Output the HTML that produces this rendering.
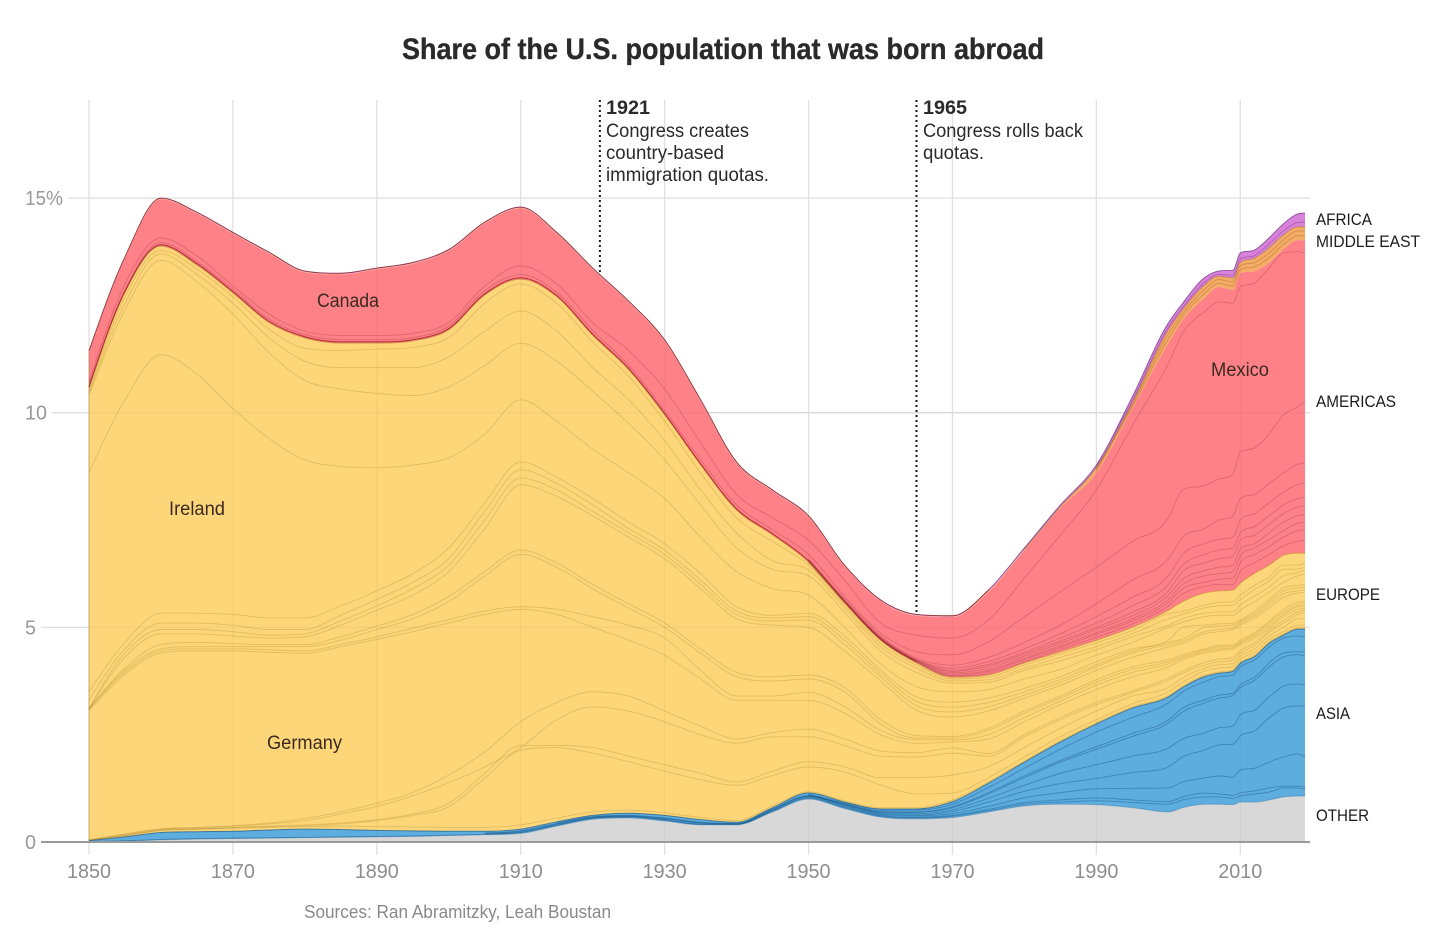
<!DOCTYPE html>
<html lang="en">
<head>
<meta charset="utf-8">
<title>Share of the U.S. population that was born abroad</title>
<style>
html,body{margin:0;padding:0;background:#fff;}
svg{display:block;}
text{font-family:"Liberation Sans",sans-serif;}
</style>
</head>
<body>
<svg id="chart" xmlns="http://www.w3.org/2000/svg" width="1456" height="944" viewBox="0 0 1456 944">
<rect x="0" y="0" width="1456" height="944" fill="#ffffff"/>
<text x="402" y="59" font-size="29.5" font-weight="700" fill="#2a2a2a" stroke="#2a2a2a" stroke-width=".35" textLength="642" lengthAdjust="spacingAndGlyphs">Share of the U.S. population that was born abroad</text>
<g id="grid-layer"></g>
<g id="band-layer"></g>
<g id="line-layer"></g>
<g id="overlay-layer"></g>
<g id="axis-layer"></g>
<g id="annotation-layer"></g>
<g font-size="19" fill="#2a2a2a">
<text x="606" y="114" font-weight="700" textLength="44" lengthAdjust="spacingAndGlyphs">1921</text>
<text x="606" y="137" textLength="143" lengthAdjust="spacingAndGlyphs">Congress creates</text>
<text x="606" y="159" textLength="118" lengthAdjust="spacingAndGlyphs">country-based</text>
<text x="606" y="181" textLength="163" lengthAdjust="spacingAndGlyphs">immigration quotas.</text>
</g>
<g font-size="19" fill="#2a2a2a">
<text x="923" y="114" font-weight="700" textLength="44" lengthAdjust="spacingAndGlyphs">1965</text>
<text x="923" y="137" textLength="160" lengthAdjust="spacingAndGlyphs">Congress rolls back</text>
<text x="923" y="159" textLength="61" lengthAdjust="spacingAndGlyphs">quotas.</text>
</g>
<g font-size="19" fill="#3a2a20">
<text x="317" y="307" textLength="62" lengthAdjust="spacingAndGlyphs">Canada</text>
<text x="169" y="515" textLength="56" lengthAdjust="spacingAndGlyphs">Ireland</text>
<text x="267" y="749" textLength="75" lengthAdjust="spacingAndGlyphs">Germany</text>
<text x="1211" y="376" textLength="58" lengthAdjust="spacingAndGlyphs">Mexico</text>
</g>
<g font-size="17" fill="#1c1c1c">
<text x="1316" y="225" textLength="56" lengthAdjust="spacingAndGlyphs">AFRICA</text>
<text x="1316" y="247" textLength="104" lengthAdjust="spacingAndGlyphs">MIDDLE EAST</text>
<text x="1316" y="407" textLength="80" lengthAdjust="spacingAndGlyphs">AMERICAS</text>
<text x="1316" y="600" textLength="64" lengthAdjust="spacingAndGlyphs">EUROPE</text>
<text x="1316" y="719" textLength="34" lengthAdjust="spacingAndGlyphs">ASIA</text>
<text x="1316" y="821" textLength="53" lengthAdjust="spacingAndGlyphs">OTHER</text>
</g>
<text x="304" y="918" font-size="18" fill="#8a8a8a" textLength="307" lengthAdjust="spacingAndGlyphs">Sources: Ran Abramitzky, Leah Boustan</text>
</svg>
<script>
// Sample years shared by every series
const years = [1850,1855,1860,1865,1870,1875,1880,1885,1890,1895,1900,1905,1910,1915,1920,1925,1930,1935,1940,1945,1950,1955,1960,1965,1970,1975,1980,1985,1990,1995,2000,2002,2005,2007,2009,2010,2012,2014,2016,2018,2019];

// Tick values and labels
const xTickYears = [1850,1870,1890,1910,1930,1950,1970,1990,2010];
const yTickValues = [0,5,10,15];
const yTickLabels = ['0','5','10','15%'];
const annotationYears = [1921,1965];

// Stack boundaries: cumulative share of the population (%)
const otherTop = [0,.02,.05,.07,.08,.09,.1,.11,.12,.13,.15,.17,.2,.37,.53,.56,.49,.4,.4,.7,1,.78,.58,.54,.57,.7,.84,.88,.87,.8,.7,.8,.88,.88,.87,.93,.93,.98,1.05,1.07,1.07];
const asiaTop = [.03,.12,.22,.24,.25,.28,.3,.29,.27,.26,.25,.25,.3,.47,.62,.67,.62,.52,.46,.8,1.14,.93,.77,.77,.94,1.37,1.86,2.33,2.75,3.12,3.38,3.6,3.85,3.93,3.98,4.16,4.32,4.63,4.82,4.96,4.96];
const europeTop = [10.57,12.8,13.88,13.44,12.79,12.1,11.74,11.62,11.62,11.67,11.93,12.74,13.11,12.7,11.8,11,9.95,8.78,7.73,7.15,6.52,5.57,4.7,4.17,3.84,3.89,4.17,4.43,4.7,5,5.4,5.6,5.8,5.85,5.87,6.03,6.26,6.45,6.68,6.73,6.73];
const americasTop = [11.41,13.6,14.97,14.64,14.17,13.71,13.27,13.22,13.34,13.47,13.77,14.41,14.76,14.17,13.34,12.57,11.67,10.27,8.82,8.17,7.57,6.42,5.61,5.27,5.24,5.83,6.8,7.78,8.6,10.1,11.62,12.16,12.67,12.93,12.86,13.25,13.3,13.49,13.81,14.02,14.02];
const middleEastTop = [11.42,13.61,14.98,14.65,14.18,13.72,13.28,13.23,13.35,13.48,13.78,14.42,14.77,14.18,13.35,12.58,11.68,10.28,8.83,8.18,7.58,6.43,5.62,5.28,5.25,5.85,6.82,7.81,8.72,10.23,11.93,12.4,12.97,13.18,13.14,13.5,13.6,13.84,14.14,14.33,14.33];
const africaTop = [11.44,13.63,15,14.67,14.2,13.74,13.3,13.25,13.37,13.5,13.8,14.44,14.79,14.2,13.37,12.6,11.7,10.3,8.85,8.2,7.6,6.45,5.64,5.3,5.27,5.87,6.85,7.85,8.78,10.37,12.09,12.55,13.14,13.3,13.32,13.72,13.79,14.07,14.4,14.63,14.65];

// Asian country boundaries (null = too thin to see in that period)
const asiaLine1 = [.01,.03,.06,.08,.09,.1,.11,.12,.13,.14,.16,.18,.22,.39,.55,.58,.51,.41,.41,.72,1.02,.8,.6,.56,.6,.73,.88,.93,.96,.92,.88,.98,1.05,1.05,1.02,1.07,1.12,1.16,1.26,1.26,1.23];
const asiaLine2 = [null,null,null,null,null,null,null,null,null,null,null,.19,.23,.4,.56,.59,.52,.42,.41,.73,1.04,.82,.62,.58,.62,.76,.92,.98,1.03,.98,.94,1.05,1.14,1.12,1.09,1.14,1.19,1.26,1.3,1.3,1.28];
const asiaLine3 = [null,null,null,null,null,null,null,null,null,null,null,.2,.25,.42,.57,.6,.54,.44,.42,.75,1.06,.84,.64,.61,.66,.83,1.03,1.15,1.24,1.25,1.26,1.4,1.49,1.54,1.51,1.68,1.72,1.86,1.98,2.05,1.98];
const asiaLine4 = [null,null,null,null,null,null,null,null,null,null,null,.21,.26,.43,.58,.61,.55,.45,.43,.76,1.07,.86,.66,.63,.71,.93,1.18,1.36,1.48,1.62,1.75,1.98,2.14,2.26,2.28,2.47,2.59,2.89,3.12,3.17,3.17];
const asiaLine5 = [null,null,null,null,null,null,null,null,null,null,null,null,null,.44,.59,.62,.56,.46,.43,.77,1.08,.87,.68,.66,.75,1.02,1.32,1.6,1.8,2,2.19,2.4,2.54,2.66,2.7,2.96,3.07,3.38,3.63,3.68,3.66];
const asiaLine6 = [null,null,null,null,null,null,null,null,null,null,null,null,null,null,null,null,null,null,null,null,1.09,.88,.7,.69,.8,1.12,1.5,1.86,2.16,2.46,2.77,3.03,3.24,3.35,3.42,3.59,3.77,4.08,4.31,4.36,4.33];
const asiaLine7 = [null,null,null,null,null,null,null,null,null,null,null,null,null,null,null,null,null,null,null,null,1.1,.89,.71,.7,.82,1.15,1.54,1.9,2.22,2.53,2.84,3.12,3.31,3.42,3.47,3.66,3.84,4.17,4.4,4.43,4.43];
const asiaLine8 = [null,null,null,null,null,null,null,null,null,null,null,null,null,null,null,null,null,null,null,null,1.12,.91,.74,.74,.88,1.27,1.72,2.16,2.56,2.9,3.24,3.5,3.73,3.85,3.89,4.08,4.24,4.54,4.75,4.8,4.78];

// European country boundaries (Germany, Ireland and the rest)
const europeLine1 = [.04,.15,.27,.3,.32,.34,.36,.37,.36,.35,.34,.34,.4,.56,.7,.74,.68,.57,.5,.84,1.17,.96,.8,.8,.98,1.4,1.89,2.36,2.78,3.15,3.41,3.63,3.88,3.96,4.01,4.19,4.35,4.66,4.85,4.99,4.99];
const europeLine2 = [.04,.15,.27,.3,.33,.36,.38,.42,.5,.62,.82,1.49,2.14,2.2,2.07,1.87,1.65,1.45,1.32,1.55,1.75,1.63,1.33,1.12,1.14,1.5,1.98,2.45,2.85,3.22,3.5,3.72,3.98,4.05,4.08,4.26,4.42,4.72,4.9,5.05,5.05];
const europeLine3 = [.04,.16,.28,.31,.34,.37,.4,.44,.52,.65,.9,1.6,2.25,2.25,2.2,2,1.8,1.6,1.4,1.65,1.87,1.75,1.5,1.5,1.56,1.75,2.2,2.65,3.05,3.4,3.6,3.82,4.05,4.13,4.16,4.33,4.5,4.8,5,5.2,5.2];
const europeLine4 = [.05,.18,.3,.33,.37,.42,.5,.65,.83,1.08,1.38,1.75,2.2,2.85,3.15,3.05,2.8,2.5,2.3,2.45,2.45,2.25,2,1.98,2.07,2,2.45,2.85,3.2,3.48,3.77,3.93,4.12,4.2,4.24,4.4,4.58,4.88,5.1,5.3,5.36];
const europeLine5 = [.05,.19,.31,.34,.38,.44,.55,.7,.9,1.15,1.56,2.1,2.8,3.25,3.5,3.4,3.05,2.7,2.4,2.55,2.63,2.4,2.12,2.08,2.19,2.06,2.5,2.9,3.25,3.52,3.82,3.98,4.18,4.26,4.3,4.46,4.64,4.93,5.16,5.36,5.4];
const europeLine6 = [3.05,3.9,4.4,4.45,4.45,4.42,4.4,4.55,4.72,4.9,5.1,5.3,5.42,5.3,5,4.7,4.35,3.8,3.3,3.3,3.3,3,2.5,2.3,2.33,2.4,2.8,3.2,3.55,3.85,4.08,4.24,4.4,4.46,4.5,4.59,4.75,4.98,5.25,5.42,5.45];
const europeLine7 = [3.1,3.95,4.45,4.5,4.5,4.48,4.45,4.6,4.78,4.98,5.18,5.38,5.48,5.42,5.25,5.05,4.75,4,3.4,3.4,3.49,3.15,2.6,2.38,2.38,2.5,2.9,3.28,3.65,3.95,4.15,4.28,4.44,4.5,4.53,4.63,4.8,5.04,5.3,5.48,5.5];
const europeLine8 = [3.1,4,4.5,4.55,4.55,4.55,4.55,4.7,4.95,5.2,5.6,6.2,6.7,6.4,5.9,5.45,5,4.4,3.85,3.75,3.8,3.5,2.75,2.42,2.42,2.6,3,3.35,3.72,4.02,4.2,4.32,4.47,4.54,4.56,4.66,4.84,5.1,5.36,5.52,5.55];
const europeLine9 = [3.1,4.05,4.6,4.65,4.62,4.6,4.6,4.78,5.03,5.3,5.72,6.3,6.8,6.5,6,5.55,5.1,4.5,3.95,3.85,3.89,3.6,2.85,2.48,2.46,2.65,3.05,3.4,3.78,4.08,4.25,4.36,4.5,4.58,4.59,4.7,4.88,5.14,5.42,5.58,5.6];
const europeLine10 = [3.1,4.3,4.85,4.85,4.8,4.75,4.78,5.05,5.4,5.75,6.3,7.3,8.32,8.05,7.6,7.1,6.6,5.9,5.2,5.05,5,4.45,3.75,3.07,2.91,3.05,3.35,3.65,4,4.3,4.54,4.63,4.85,4.9,4.95,5.05,5.22,5.45,5.7,5.8,5.82];
const europeLine11 = [3.1,4.4,4.95,4.95,4.9,4.82,4.85,5.15,5.5,5.9,6.45,7.5,8.48,8.2,7.7,7.2,6.7,6,5.3,5.15,5.17,4.6,3.85,3.18,3.03,3.15,3.42,3.72,4.08,4.4,4.6,4.68,4.9,4.95,4.98,5.1,5.27,5.52,5.78,5.85,5.88];
const europeLine12 = [3.3,4.5,5.1,5.1,5.05,4.95,4.95,5.28,5.65,6.05,6.6,7.7,8.67,8.35,7.85,7.3,6.8,6.1,5.38,5.22,5.25,4.7,3.93,3.28,3.14,3.25,3.5,3.78,4.13,4.45,4.65,4.73,5,5.03,5.05,5.14,5.32,5.59,5.85,5.92,5.93];
const europeLine13 = [3.5,4.65,5.33,5.33,5.3,5.22,5.22,5.5,5.85,6.25,6.85,7.9,8.85,8.5,8,7.45,6.95,6.25,5.48,5.28,5.33,4.8,4,3.38,3.26,3.35,3.58,3.85,4.2,4.5,4.7,5,5.05,5.08,5.1,5.17,5.38,5.65,5.92,5.98,6];
const europeLine14 = [8.6,10.3,11.35,10.9,10.1,9.4,8.9,8.75,8.72,8.78,8.95,9.5,10.3,9.8,9.15,8.6,8,7.1,6.3,5.9,5.75,5,4.15,3.62,3.5,3.55,3.8,4.02,4.35,4.65,5,5.12,5.25,5.28,5.28,5.4,5.6,5.82,6.05,6.2,6.25];
const europeLine15 = [10.4,12.4,13.55,13.05,12.3,11.4,10.75,10.55,10.45,10.4,10.6,11.1,11.62,11.2,10.5,9.75,8.9,7.85,6.85,6.35,6.2,5.35,4.45,3.95,3.7,3.72,4,4.22,4.48,4.78,5.05,5.2,5.33,5.36,5.36,5.52,5.73,5.94,6.2,6.28,6.34];
const europeLine16 = [10.45,12.55,13.7,13.22,12.55,11.75,11.2,11.05,11.05,11.05,11.3,11.9,12.37,11.9,11.05,10.3,9.35,8.2,7.2,6.55,6.34,5.45,4.55,4.05,3.75,3.78,4.05,4.3,4.55,4.85,5.2,5.3,5.45,5.5,5.52,5.65,5.88,6.08,6.35,6.36,6.41];
const europeLine17 = [10.5,12.7,13.78,13.35,12.7,11.95,11.5,11.45,11.48,11.52,11.75,12.55,13,12.55,11.65,10.85,9.8,8.6,7.55,7,6.45,5.52,4.63,4.12,3.8,3.84,4.12,4.38,4.64,4.93,5.32,5.37,5.52,5.58,5.6,5.75,5.98,6.17,6.45,6.45,6.5];

// Americas boundaries (null = the country is too thin to see in that period)
const americasEdge = [10.6,12.83,13.91,13.47,12.82,12.13,11.77,11.65,11.65,11.7,11.96,12.77,13.14,12.73,11.83,11.03,9.98,8.81,7.76,7.18,6.55,5.6,4.73,4.2,null,null,null,null,null,null,null,null,null,null,null,null,null,null,null,null,null];
const americasLine2 = [null,null,null,null,null,null,null,null,null,null,null,null,null,null,null,null,null,null,null,null,6.52,5.58,4.71,4.19,3.86,3.93,4.2,4.48,4.77,5.08,5.5,5.78,5.95,6,6,6.3,6.5,6.7,6.9,7,7.03];
const americasLine3 = [null,null,null,null,null,null,null,null,null,null,null,null,null,null,null,null,null,null,null,null,6.53,5.585,4.72,4.2,3.88,3.97,4.25,4.53,4.84,5.15,5.58,5.9,6.05,6.12,6.15,6.5,6.7,6.88,7.1,7.25,7.27];
const americasLine4 = [null,null,null,null,null,null,null,null,null,null,null,null,null,null,null,null,null,null,null,null,6.54,5.59,4.73,4.21,3.91,4,4.28,4.57,4.88,5.2,5.65,6,6.2,6.25,6.3,6.66,6.85,7.05,7.25,7.43,7.45];
const americasLine5 = [null,null,null,null,null,null,null,null,null,null,null,null,null,null,null,null,null,null,null,null,6.55,5.6,4.74,4.22,3.94,4.05,4.33,4.63,4.95,5.27,5.75,6.12,6.32,6.4,6.45,6.82,6.95,7.2,7.45,7.6,7.62];
const americasLine6 = [null,null,null,null,null,null,null,null,null,null,null,null,null,null,null,null,null,null,null,null,6.56,5.61,4.75,4.23,3.97,4.1,4.38,4.68,5,5.35,5.85,6.3,6.5,6.6,6.65,7.03,7.15,7.4,7.65,7.8,7.83];
const americasLine7 = [null,null,null,null,null,null,null,null,null,null,null,null,null,null,null,null,null,null,null,null,6.57,5.62,4.76,4.24,4,4.14,4.42,4.75,5.1,5.5,6,6.45,6.7,6.8,6.85,7.2,7.35,7.6,7.85,8,8.03];
const americasLine8 = [null,null,null,null,null,null,null,null,null,null,null,null,null,null,null,null,null,null,null,null,6.58,5.64,4.78,4.25,4.05,4.2,4.5,4.85,5.25,5.7,6.2,6.7,6.95,7.05,7.1,7.5,7.65,7.9,8.15,8.33,8.36];
const americasLine9 = [null,null,null,null,null,null,null,null,null,null,null,null,null,null,null,null,null,null,null,null,6.6,5.66,4.8,4.28,4.12,4.3,4.65,5.05,5.55,6.1,6.6,7.1,7.3,7.5,7.6,8,8.1,8.35,8.6,8.8,8.83];
const mexicoBottom = [10.63,12.86,13.96,13.52,12.87,12.18,11.82,11.7,11.7,11.75,12.02,12.84,13.22,12.8,11.92,11.1,10.05,8.9,7.85,7.27,6.7,5.72,4.87,4.43,4.36,4.66,5.25,5.83,6.4,7,7.55,8.2,8.3,8.45,8.57,9.08,9.18,9.5,9.95,10.14,10.27];
const mexicoTop = [10.7,13,14.07,13.65,12.95,12.3,11.9,11.8,11.8,11.85,12.1,12.95,13.42,13,12.1,11.45,10.55,9.3,8.1,7.55,7.03,6.1,5.1,4.82,4.75,5.17,6.15,7.15,8.2,9.7,11.15,11.86,12.35,12.58,12.55,12.93,13.02,13.37,13.72,13.75,13.72];

// Middle East and Africa inner boundaries
const middleEastLine1 = [null,null,null,null,null,null,null,null,null,null,null,null,null,null,null,null,null,null,null,null,null,null,null,null,null,null,null,null,8.64,10.14,11.72,12.24,12.77,13.01,12.95,13.33,13.4,13.61,13.92,14.12,14.12];
const middleEastLine2 = [null,null,null,null,null,null,null,null,null,null,null,null,null,null,null,null,null,null,null,null,null,null,null,null,null,null,null,null,8.68,10.19,11.83,12.32,12.87,13.1,13.05,13.42,13.5,13.72,14.03,14.23,14.23];
const africaLine1 = [null,null,null,null,null,null,null,null,null,null,null,null,null,null,null,null,null,null,null,null,null,null,null,null,null,null,null,null,8.74,10.28,11.99,12.45,13.03,13.22,13.2,13.58,13.66,13.93,14.24,14.43,14.44];

// Axis functions
function xScale(year){ return 89 + (year - 1850) * 7.1955; }
function yScale(share){ return 842 - share * 42.93; }

const SVG_NS = 'http://www.w3.org/2000/svg';
function make(tag, parent, attrs){
  const el = document.createElementNS(SVG_NS, tag);
  for (const k in attrs) el.setAttribute(k, attrs[k]);
  parent.appendChild(el);
  return el;
}

// Smooth tangents over pixel coordinates (Fritsch-Carlson style limit)
function tangents(xs, ys){
  const n = xs.length, m = new Array(n).fill(0), h = [], s = [];
  for (let i = 0; i < n - 1; i++){ h[i] = xs[i+1] - xs[i]; s[i] = (ys[i+1] - ys[i]) / h[i]; }
  for (let i = 1; i < n - 1; i++){
    if (s[i-1] * s[i] <= 0) { m[i] = 0; continue; }
    const p = (s[i-1] * h[i] + s[i] * h[i-1]) / (h[i-1] + h[i]);
    m[i] = Math.sign(p) * Math.min(Math.abs(p), 3 * Math.min(Math.abs(s[i-1]), Math.abs(s[i])));
  }
  if (n > 1){
    m[0] = n > 2 ? (3 * s[0] - m[1]) / 2 : s[0];
    m[n-1] = n > 2 ? (3 * s[n-2] - m[n-2]) / 2 : s[n-2];
  }
  return m;
}
function curveSegments(xs, ys, ms){
  let d = '';
  for (let i = 0; i < xs.length - 1; i++){
    const h = xs[i+1] - xs[i];
    d += 'C' + (xs[i] + h/3).toFixed(2) + ' ' + (ys[i] + ms[i]*h/3).toFixed(2) + ' ' +
         (xs[i+1] - h/3).toFixed(2) + ' ' + (ys[i+1] - ms[i+1]*h/3).toFixed(2) + ' ' +
         xs[i+1].toFixed(2) + ' ' + ys[i+1].toFixed(2);
  }
  return d;
}
function linePath(values){
  const idx = [];
  values.forEach(function(v, i){ if (v !== null) idx.push(i); });
  const xs = idx.map(function(i){ return xScale(years[i]); });
  const ys = idx.map(function(i){ return yScale(values[i]); });
  const ms = tangents(xs, ys);
  return 'M' + xs[0].toFixed(2) + ' ' + ys[0].toFixed(2) + curveSegments(xs, ys, ms);
}
// Part of a complete series, following exactly the curve of its band's edge
function rangePath(values, first, last){
  const allX = years.map(xScale), allY = values.map(yScale), allM = tangents(allX, allY);
  const xs = allX.slice(first, last + 1), ys = allY.slice(first, last + 1), ms = allM.slice(first, last + 1);
  return 'M' + xs[0].toFixed(2) + ' ' + ys[0].toFixed(2) + curveSegments(xs, ys, ms);
}
function bandPath(lower, upper){
  const xs = years.map(xScale);
  const up = upper.map(yScale), lo = lower.map(yScale);
  const mu = tangents(xs, up), ml = tangents(xs, lo);
  const rx = xs.slice().reverse(), rl = lo.slice().reverse(), rm = ml.slice().reverse();
  return 'M' + xs[0].toFixed(2) + ' ' + up[0].toFixed(2) + curveSegments(xs, up, mu) +
         'L' + rx[0].toFixed(2) + ' ' + rl[0].toFixed(2) + curveSegments(rx, rl, rm) + 'Z';
}
function shareAt(series, year){
  for (let i = 0; i < years.length - 1; i++){
    if (year >= years[i] && year <= years[i+1]){
      const t = (year - years[i]) / (years[i+1] - years[i]);
      return series[i] + (series[i+1] - series[i]) * t;
    }
  }
  return series[series.length - 1];
}

const zeroSeries = years.map(function(){ return 0; });
const lastIndex = years.length - 1;
const gridLayer = document.getElementById('grid-layer');
const bandLayer = document.getElementById('band-layer');
const lineLayer = document.getElementById('line-layer');
const overlayLayer = document.getElementById('overlay-layer');
const axisLayer = document.getElementById('axis-layer');
const annotationLayer = document.getElementById('annotation-layer');

// Grid behind the bands
xTickYears.forEach(function(year){
  const line = make('line', gridLayer, {x1: xScale(year), x2: xScale(year), y1: 100, y2: 855, stroke: '#e0e0e0', 'stroke-width': 1.3});
  
  
});
yTickValues.forEach(function(value, i){
  if (value === 0) return;
  const startX = [41, 41, 52, 68][i];
  const line = make('line', gridLayer, {x1: startX, x2: 1310, y1: yScale(value), y2: yScale(value), stroke: '#e0e0e0', 'stroke-width': 1.3});
  
  
});

// Region bands
const bandLower = [zeroSeries, otherTop, asiaTop, europeTop, americasTop, middleEastTop];
const bandUpper = [otherTop, asiaTop, europeTop, americasTop, middleEastTop, africaTop];
const bandNames = ['band-other', 'band-asia', 'band-europe', 'band-americas', 'band-middle-east', 'band-africa'];
const bandColors = ['#d8d8d8', '#5eaddf', '#fdd679', '#fe8188', '#f3ad67', '#d982da'];
bandNames.forEach(function(name, i){
  const band = make('path', bandLayer, {d: bandPath(bandLower[i], bandUpper[i]), fill: bandColors[i]});
  
  
});

// Overlay so the grid shows faintly through the fills
xTickYears.forEach(function(year){
  const top = yScale(shareAt(africaTop, year));
  const line = make('line', overlayLayer, {x1: xScale(year), x2: xScale(year), y1: top, y2: 842, stroke: year === 1850 ? 'rgba(120,90,0,.25)' : 'rgba(60,50,20,.05)', 'stroke-width': 1.3});
  
  
});
[5, 10].forEach(function(value){
  const line = make('line', overlayLayer, {x1: 89, x2: 1305, y1: yScale(value), y2: yScale(value), stroke: 'rgba(60,50,20,.04)', 'stroke-width': 1.3});
  
  
});

// Inner country lines
const yellowStroke = 'rgba(168,128,40,.3)';
const blueStroke = 'rgba(24,84,135,.45)';
const redStroke = 'rgba(135,40,50,.28)';
const purpleStroke = 'rgba(110,40,120,.4)';
const orangeStroke = 'rgba(170,90,30,.4)';
const inner = [
  [asiaLine1,'asia-line-1',blueStroke],[asiaLine2,'asia-line-2',blueStroke],[asiaLine3,'asia-line-3',blueStroke],[asiaLine4,'asia-line-4',blueStroke],
  [asiaLine5,'asia-line-5',blueStroke],[asiaLine6,'asia-line-6',blueStroke],[asiaLine7,'asia-line-7',blueStroke],[asiaLine8,'asia-line-8',blueStroke],
  [europeLine1,'europe-line-1',yellowStroke],[europeLine2,'europe-line-2',yellowStroke],[europeLine3,'europe-line-3',yellowStroke],[europeLine4,'europe-line-4',yellowStroke],
  [europeLine5,'europe-line-5',yellowStroke],[europeLine6,'europe-line-6',yellowStroke],[europeLine7,'europe-line-7',yellowStroke],[europeLine8,'europe-line-8',yellowStroke],
  [europeLine9,'europe-line-9',yellowStroke],[europeLine10,'europe-line-10',yellowStroke],[europeLine11,'europe-line-11',yellowStroke],[europeLine12,'europe-line-12',yellowStroke],
  [europeLine13,'europe-line-13',yellowStroke],[europeLine14,'europe-line-14',yellowStroke],[europeLine15,'europe-line-15',yellowStroke],[europeLine16,'europe-line-16',yellowStroke],
  [europeLine17,'europe-line-17',yellowStroke],
  [americasLine2,'americas-line-2',redStroke],[americasLine3,'americas-line-3',redStroke],[americasLine4,'americas-line-4',redStroke],[americasLine5,'americas-line-5',redStroke],
  [americasLine6,'americas-line-6',redStroke],[americasLine7,'americas-line-7',redStroke],[americasLine8,'americas-line-8',redStroke],[americasLine9,'americas-line-9',redStroke],
  [mexicoBottom,'mexico-bottom-line',redStroke],[mexicoTop,'mexico-top-line',redStroke],
  [middleEastLine1,'middle-east-line-1',orangeStroke],[middleEastLine2,'middle-east-line-2',orangeStroke],[africaLine1,'africa-line-1',purpleStroke]
];
inner.forEach(function(item){
  const path = make('path', lineLayer, {d: linePath(item[0]), fill: 'none', stroke: item[2], 'stroke-width': .9});
  
  
});

// Region edges
const edges = [
  [rangePath(otherTop, 0, lastIndex),'other-edge','rgba(40,110,165,.45)',.9],
  [rangePath(asiaTop, 0, lastIndex),'asia-edge','rgba(20,85,135,.7)',1],
  [rangePath(europeTop, 0, lastIndex),'europe-edge','rgba(190,130,40,.55)',1],
  [linePath(americasEdge),'americas-dark-edge','rgba(168,35,43,.9)',1],
  [rangePath(africaTop, 25, lastIndex),'africa-edge','#8a4f9a',.9],
  [rangePath(middleEastTop, 26, lastIndex),'middle-east-edge','rgba(168,103,42,.6)',.8],
  [rangePath(africaTop, 0, 25),'canada-top-edge','#8f3135',.9]
];
edges.forEach(function(item){
  const path = make('path', lineLayer, {d: item[0], fill: 'none', stroke: item[2], 'stroke-width': item[3]});
  
  
});

// Axes
const baseline = make('line', axisLayer, {x1: 41, x2: 1310, y1: 842, y2: 842, stroke: '#9a9a9a', 'stroke-width': 2});


xTickYears.forEach(function(year){
  const t = make('text', axisLayer, {x: xScale(year) - 22, y: 878, 'font-size': 20, fill: '#8d8d8d', textLength: 44, lengthAdjust: 'spacingAndGlyphs'});
  t.textContent = String(year);
  
  
});
yTickValues.forEach(function(value, i){
  const labelWidth = yTickLabels[i].length === 3 ? 38 : yTickLabels[i].length * 11;
  const t = make('text', axisLayer, {x: 25, y: yScale(value) + 7, 'font-size': 20, fill: '#999999', textLength: labelWidth, lengthAdjust: 'spacingAndGlyphs'});
  t.textContent = yTickLabels[i];
  
  
});

// Dotted annotation markers
annotationYears.forEach(function(year){
  const line = make('line', annotationLayer, {x1: xScale(year), x2: xScale(year), y1: 100, y2: yScale(shareAt(africaTop, year)), stroke: '#1a1a1a', 'stroke-width': 2, 'stroke-dasharray': '2 3'});
  
  
});
</script>
</body>
</html>
